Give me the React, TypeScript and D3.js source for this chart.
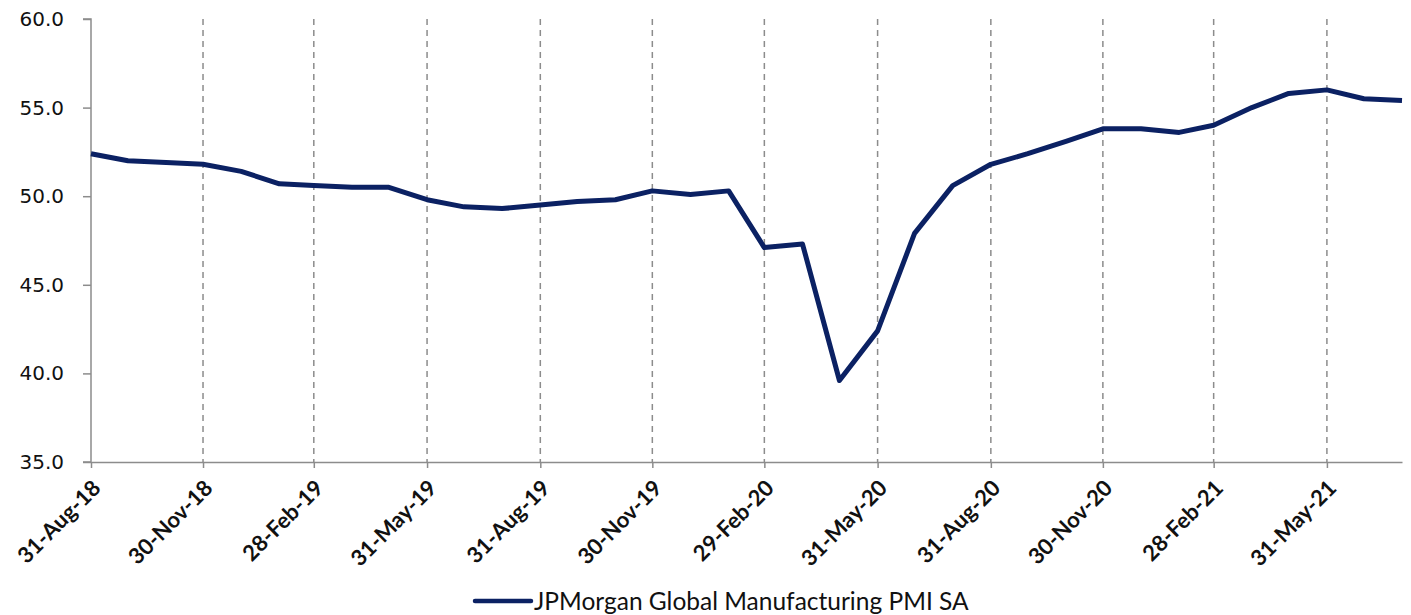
import React, { useEffect, useRef } from 'react';
import * as d3 from 'd3';

// monthly month-end dates, Aug-18 .. Jul-21
const months: string[] = [
  '2018-08-31', '2018-09-30', '2018-10-31', '2018-11-30', '2018-12-31',
  '2019-01-31', '2019-02-28', '2019-03-31', '2019-04-30', '2019-05-31', '2019-06-30',
  '2019-07-31', '2019-08-31', '2019-09-30', '2019-10-31', '2019-11-30', '2019-12-31',
  '2020-01-31', '2020-02-29', '2020-03-31', '2020-04-30', '2020-05-31', '2020-06-30',
  '2020-07-31', '2020-08-31', '2020-09-30', '2020-10-31', '2020-11-30', '2020-12-31',
  '2021-01-31', '2021-02-28', '2021-03-31', '2021-04-30', '2021-05-31', '2021-06-30',
  '2021-07-31',
];

const pmi: number[] = [
  52.4, 52.0, 51.9, 51.8, 51.4,
  50.7, 50.6, 50.5, 50.5, 49.8, 49.4,
  49.3, 49.5, 49.7, 49.8, 50.3, 50.1,
  50.3, 47.1, 47.3, 39.6, 42.4, 47.9,
  50.6, 51.8, 52.4, 53.1, 53.8, 53.8,
  53.6, 54.0, 55.0, 55.8, 56.0, 55.5,
  55.4,
];

const tickDates: string[] = [
  '2018-08-31', '2018-11-30', '2019-02-28', '2019-05-31', '2019-08-31', '2019-11-30',
  '2020-02-29', '2020-05-31', '2020-08-31', '2020-11-30', '2021-02-28', '2021-05-31',
];

const yTicks: number[] = [35, 40, 45, 50, 55, 60];
const seriesName = 'JPMorgan Global Manufacturing PMI SA';

const W = 1411, H = 615;
const left = 91, right = 1402, top = 19, bottom = 462;
const navy = '#0b2163';

export default function App() {
  const ref = useRef<SVGSVGElement>(null);

  useEffect(() => {
    const svg = d3.select(ref.current);
    svg.selectAll('*').remove();

    const parse = d3.utcParse('%Y-%m-%d');
    const dates = months.map(d => parse(d) as Date);
    const ticks = tickDates.map(d => parse(d) as Date);

    const x = d3.scaleUtc().domain([dates[0], dates[dates.length - 1]]).range([left, right]);
    const y = d3.scaleLinear().domain([35, 60]).range([bottom, top]);

    // vertical dashed gridlines
    svg.append('g')
      .selectAll('line')
      .data(ticks.slice(1))
      .enter().append('line')
      .attr('x1', d => x(d)).attr('x2', d => x(d))
      .attr('y1', top).attr('y2', bottom)
      .attr('stroke', '#8c8c8c')
      .attr('stroke-width', 1.5)
      .attr('stroke-dasharray', '6,5');

    // y axis
    const yAxis = svg.append('g')
      .attr('transform', `translate(${left},0)`)
      .call(d3.axisLeft(y).tickValues(yTicks).tickFormat(d3.format('.1f')).tickSize(8).tickPadding(19));
    yAxis.selectAll('path, line').attr('stroke', '#8c8c8c').attr('stroke-width', 1.5);
    yAxis.select('.domain').attr('d', `M-8,${top}H0V${bottom}H-8`);
    yAxis.selectAll('text')
      .attr('font-family', '"DejaVu Sans", Verdana, sans-serif')
      .attr('font-size', 20)
      .attr('fill', '#111');

    // x axis
    const xAxis = svg.append('g')
      .attr('transform', `translate(0,${bottom})`)
      .call(d3.axisBottom(x).tickValues(ticks).tickFormat(d3.utcFormat('%d-%b-%y') as any).tickSize(6).tickSizeOuter(0));
    xAxis.selectAll('path, line').attr('stroke', '#8c8c8c').attr('stroke-width', 1.5);
    xAxis.selectAll('text')
      .attr('font-family', 'Lato, "Open Sans", sans-serif')
      .attr('font-weight', 'bold')
      .attr('font-size', 22)
      .attr('fill', '#111')
      .attr('text-anchor', 'end')
      .attr('dy', '0.35em')
      .attr('transform', 'translate(5,22) rotate(-45)')
      .attr('y', 0);

    // line
    const line = d3.line<number>()
      .x((_, i) => x(dates[i]))
      .y(d => y(d));
    svg.append('path')
      .datum(pmi)
      .attr('d', line)
      .attr('fill', 'none')
      .attr('stroke', navy)
      .attr('stroke-width', 5)
      .attr('stroke-linejoin', 'round');

    // legend
    const lg = svg.append('g').attr('transform', 'translate(475,601)');
    lg.append('line')
      .attr('x1', 0).attr('x2', 56)
      .attr('stroke', navy).attr('stroke-width', 4.5).attr('stroke-linecap', 'round');
    lg.append('text')
      .attr('x', 59).attr('dy', '0.35em')
      .attr('font-family', 'Lato, "Open Sans", sans-serif')
      .attr('font-size', 24.5)
      .attr('fill', '#111')
      .text(seriesName);
  }, []);

  return (
    <svg ref={ref} width={W} height={H}
      style={{ position: 'absolute', left: 0, top: 0, background: '#fff' }} />
  );
}
